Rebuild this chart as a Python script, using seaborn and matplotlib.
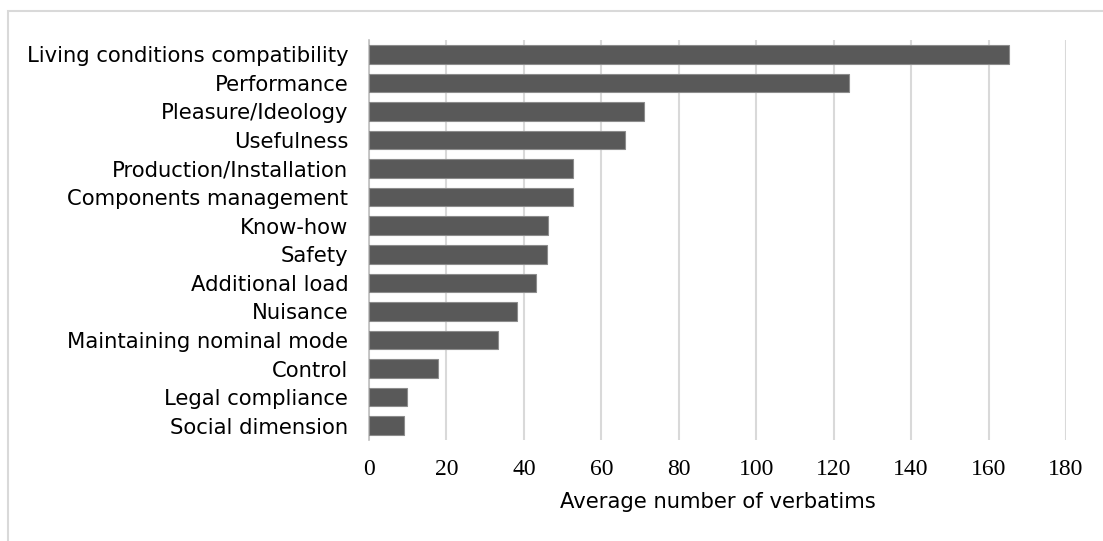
import pandas as pd
import matplotlib.pyplot as plt
import seaborn as sns
from matplotlib.patches import Rectangle

# Data
categories = ['Living conditions compatibility', 'Performance', 'Pleasure/Ideology',
              'Usefulness', 'Production/Installation', 'Components management',
              'Know-how', 'Safety', 'Additional load', 'Nuisance',
              'Maintaining nominal mode', 'Control', 'Legal compliance', 'Social dimension']
values = [165.4, 124.0, 71.1, 66.2, 52.6, 52.6, 46.3, 46.0, 43.0, 38.3, 33.2, 17.7, 9.8, 9.0]
x_ticks = [0, 20, 40, 60, 80, 100, 120, 140, 160, 180]

df = pd.DataFrame({'category': categories, 'verbatims': values})

sns.set_style('white')
plt.rcParams['font.family'] = ['DejaVu Sans']
plt.rcParams['text.color'] = 'black'
plt.rcParams['xtick.color'] = 'black'
plt.rcParams['ytick.color'] = 'black'
plt.rcParams['axes.labelcolor'] = 'black'

fig = plt.figure(figsize=(11.03, 5.41), dpi=100)
ax = fig.add_axes([369 / 1103, 1 - 440 / 541, (1066 - 369) / 1103, 400 / 541])

sns.barplot(x='verbatims', y='category', data=df, color='#595959', saturation=1,
            width=0.65, edgecolor='#8c8c8c', linewidth=0.8, ax=ax, zorder=3)

ax.set_xlim(0, 180)
ax.set_xticks(x_ticks)
ax.set_xticklabels([str(t) for t in x_ticks], family='Liberation Serif', fontsize=17)
ax.tick_params(axis='x', length=0, pad=14)
ax.tick_params(axis='y', length=0, pad=15, labelsize=15.2)
ax.xaxis.grid(True, color='#d9d9d9', linewidth=1.5, zorder=0)
ax.set_axisbelow(True)
for side in ['top', 'right', 'bottom']:
    ax.spines[side].set_visible(False)
ax.spines['left'].set_color('#bfbfbf')
ax.spines['left'].set_linewidth(1.2)
ax.set_ylabel('')
ax.set_xlabel('Average number of verbatims', fontsize=15.2, labelpad=8)

# light frame around the chart
fig.patches.append(Rectangle((8 / 1103, -0.05), 1.2, 1 - 11 / 541 + 0.05,
                             transform=fig.transFigure, fill=False,
                             edgecolor='#d9d9d9', linewidth=1.5))

plt.savefig('out.png', dpi=100)
